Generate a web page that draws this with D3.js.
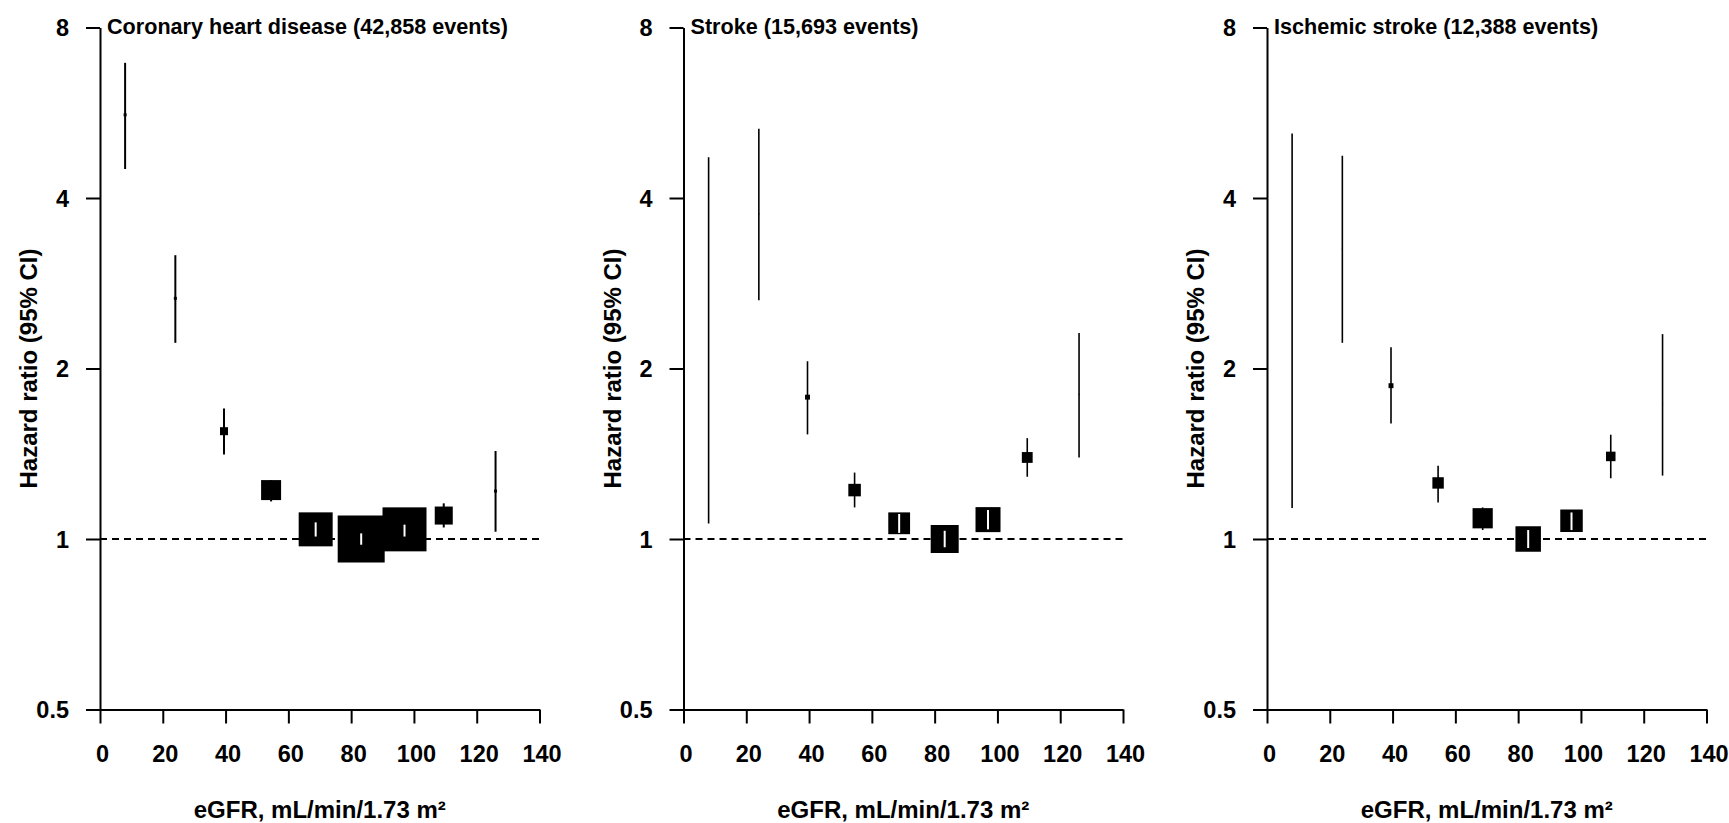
<!DOCTYPE html>
<html>
<head>
<meta charset="utf-8">
<script src="https://cdn.jsdelivr.net/npm/d3@7"></script>
<style>
  html, body { margin: 0; padding: 0; background: #fff; }
  svg text { font-family: "Liberation Sans", Arial, sans-serif; font-weight: bold; fill: #000; }
</style>
</head>
<body>
<div id="chart"></div>
<script>
// eGFR category midpoints (shared by all panels)
var egfr = [8, 24, 39.5, 54.5, 68.7, 83.2, 97, 109.5, 126];

var xTicks = [0, 20, 40, 60, 80, 100, 120, 140];
var yTicks = [0.5, 1, 2, 4, 8];
var yTickLabels = ['0.5', '1', '2', '4', '8'];

var panelTitles = [
  'Coronary heart disease (42,858 events)',
  'Stroke (15,693 events)',
  'Ischemic stroke (12,388 events)'
];

// coronary heart disease
var chdHr = [5.61, 2.66, 1.55, 1.22, 1.04, 1.00, 1.04, 1.10, 1.215];
var chdLo = [4.50, 2.22, 1.41, 1.165, 1.01, 0.977, 1.01, 1.048, 1.03];
var chdHi = [6.93, 3.17, 1.70, 1.27, 1.07, 1.023, 1.06, 1.156, 1.43];
var chdWeight = [0.4, 0.4, 2.9, 18.1, 52.3, 100, 87.6, 14.7, 0.4];

// stroke
var strokeHr = [2.24, 3.75, 1.78, 1.22, 1.066, 1.00, 1.082, 1.393, 1.80];
var strokeLo = [1.065, 2.64, 1.53, 1.137, 1.025, 0.967, 1.04, 1.288, 1.393];
var strokeHi = [4.72, 5.30, 2.06, 1.31, 1.107, 1.034, 1.125, 1.507, 2.31];
var strokeWeight = [0, 0.05, 1.1, 7.1, 21.5, 35.5, 28.3, 5.3, 0.05];

// ischemic stroke
var ischHr = [2.43, 3.25, 1.865, 1.256, 1.088, 1.00, 1.077, 1.399, 1.73];
var ischLo = [1.134, 2.22, 1.60, 1.16, 1.037, 0.964, 1.037, 1.28, 1.294];
var ischHi = [5.20, 4.75, 2.18, 1.347, 1.137, 1.037, 1.114, 1.528, 2.30];
var ischWeight = [0, 0.05, 1.1, 5.9, 18.5, 29.4, 22.9, 4.1, 0.05];

var panels = [
  {title: panelTitles[0], hr: chdHr, lo: chdLo, hi: chdHi, w: chdWeight, lw: 2},
  {title: panelTitles[1], hr: strokeHr, lo: strokeLo, hi: strokeHi, w: strokeWeight, lw: 1.6},
  {title: panelTitles[2], hr: ischHr, lo: ischLo, hi: ischHi, w: ischWeight, lw: 1.6}
];

var width = 1729,
  height = 823;

var panelLeft = [100, 683.5, 1267];
var panelWidth = 439.5;
var plotTop = 27.5,
  plotBottom = 709.5;

var svg = d3
  .select('#chart')
  .append('svg')
  .attr('width', width)
  .attr('height', height);

var y = d3.scaleLog().base(2).domain([0.5, 8]).range([plotBottom, plotTop]);
var boxSize = d3.scaleSqrt().domain([0, 100]).range([0, 47]);

panels.forEach(function (p, k) {
  var x = d3.scaleLinear().domain([0, 140]).range([0, panelWidth]);
  var g = svg.append('g').attr('transform', 'translate(' + panelLeft[k] + ',0)');

  // y axis
  var yAxis = d3
    .axisLeft(y)
    .tickValues(yTicks)
    .tickFormat(function (d, i) { return yTickLabels[i]; })
    .tickSize(14)
    .tickSizeOuter(0)
    .tickPadding(17);
  var ya = g.append('g').call(yAxis);
  ya.selectAll('text').style('font-size', '23.5px').attr('dy', '0.36em');

  // x axis
  var xAxis = d3
    .axisBottom(x)
    .tickValues(xTicks)
    .tickSize(14)
    .tickSizeOuter(0)
    .tickPadding(22);
  var xa = g.append('g').attr('transform', 'translate(0,' + plotBottom + ')').call(xAxis);
  xa.selectAll('text').style('font-size', '23.5px').attr('dx', 2);

  [ya, xa].forEach(function (a) {
    a.selectAll('path, line').attr('stroke', '#000').attr('stroke-width', 2);
  });

  // reference line at HR = 1
  g.append('line')
    .attr('x1', 0)
    .attr('x2', panelWidth)
    .attr('y1', y(1))
    .attr('y2', y(1))
    .attr('stroke', '#000')
    .attr('stroke-width', 2)
    .attr('stroke-dasharray', '7,5');

  var rows = egfr.map(function (e, i) {
    return {x: e, hr: p.hr[i], lo: p.lo[i], hi: p.hi[i], s: boxSize(p.w[i])};
  });

  // CI lines
  g.selectAll('.ci')
    .data(rows)
    .enter()
    .append('line')
    .attr('class', 'ci')
    .attr('x1', function (d) { return x(d.x); })
    .attr('x2', function (d) { return x(d.x); })
    .attr('y1', function (d) { return y(d.hi); })
    .attr('y2', function (d) { return y(d.lo); })
    .attr('stroke', '#000')
    .attr('stroke-width', p.lw);

  // boxes
  g.selectAll('.box')
    .data(rows)
    .enter()
    .append('rect')
    .attr('class', 'box')
    .attr('x', function (d) { return x(d.x) - d.s / 2; })
    .attr('y', function (d) { return y(d.hr) - d.s / 2; })
    .attr('width', function (d) { return d.s; })
    .attr('height', function (d) { return d.s; })
    .attr('fill', '#000');

  // CI shown in white where it sits inside the box
  g.selectAll('.ciw')
    .data(rows.filter(function (d) {
      return y(d.hi) > y(d.hr) - d.s / 2 && y(d.lo) < y(d.hr) + d.s / 2;
    }))
    .enter()
    .append('line')
    .attr('class', 'ciw')
    .attr('x1', function (d) { return x(d.x); })
    .attr('x2', function (d) { return x(d.x); })
    .attr('y1', function (d) { return y(d.hi); })
    .attr('y2', function (d) { return y(d.lo); })
    .attr('stroke', '#fff')
    .attr('stroke-width', 2);

  // panel title
  g.append('text')
    .attr('x', 7)
    .attr('y', 34)
    .style('font-size', '21.6px')
    .text(p.title);

  // axis titles
  g.append('text')
    .attr('x', panelWidth / 2)
    .attr('y', 818)
    .attr('text-anchor', 'middle')
    .style('font-size', '24px')
    .text('eGFR, mL/min/1.73 m\u00b2');

  g.append('text')
    .attr('transform', 'translate(-63,' + (plotTop + plotBottom) / 2 + ') rotate(-90)')
    .attr('text-anchor', 'middle')
    .style('font-size', '24px')
    .text('Hazard ratio (95% CI)');
});
</script>
</body>
</html>
